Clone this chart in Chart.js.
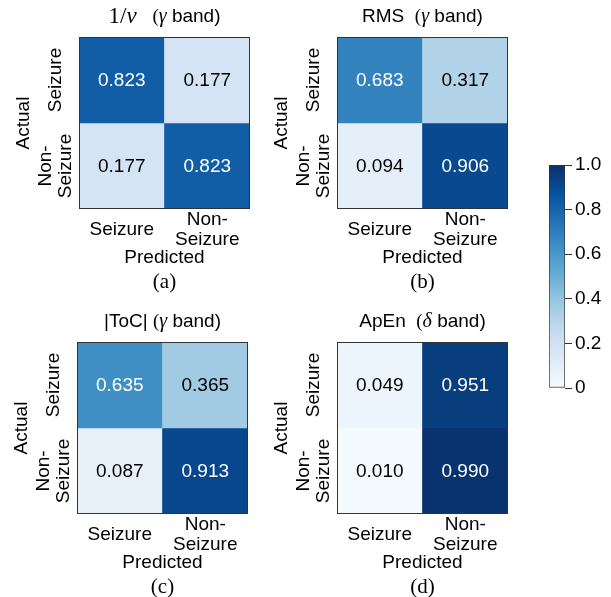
<!DOCTYPE html>
<html><head><meta charset="utf-8">
<script src="https://cdn.jsdelivr.net/npm/chart.js@4"></script>
<style>
html,body{margin:0;padding:0;background:#fff;width:611px;height:597px;overflow:hidden;position:relative}
canvas{position:absolute}
</style></head><body>
<canvas id="pa" width="290" height="297" style="left:0px;top:0px"></canvas>
<canvas id="pb" width="290" height="297" style="left:258px;top:0px"></canvas>
<canvas id="pc" width="290" height="297" style="left:-2px;top:305px"></canvas>
<canvas id="pd" width="290" height="297" style="left:258px;top:305px"></canvas>
<canvas id="cb" width="81" height="270" style="left:530px;top:140px;z-index:5"></canvas>
<script>
// ---- data ----
const predictedLabels = ['Seizure', ['Non-', 'Seizure']];
const actualLabels = ['Seizure', ['Non-', 'Seizure']];
const invNuSeizure = [0.823, 0.177];
const invNuNonSeizure = [0.177, 0.823];
const rmsSeizure = [0.683, 0.317];
const rmsNonSeizure = [0.094, 0.906];
const tocSeizure = [0.635, 0.365];
const tocNonSeizure = [0.087, 0.913];
const apenSeizure = [0.049, 0.951];
const apenNonSeizure = [0.010, 0.990];
const colorbarTicks = [0, 0.2, 0.4, 0.6, 0.8, 1.0];
const colorbarTickLabels = ['0', '0.2', '0.4', '0.6', '0.8', '1.0'];
const captions = ['(a)', '(b)', '(c)', '(d)'];

const SANS = '"Liberation Sans", Arial, sans-serif';
const SERIF = '"Liberation Serif", "Times New Roman", serif';

// matplotlib "Blues" colormap anchors
const bluesStops = [
  [247,251,255],[222,235,247],[198,219,239],[158,202,225],[107,174,214],
  [66,146,198],[33,113,181],[8,81,156],[8,48,107]
];
function blues(v) {
  const t = Math.max(0, Math.min(1, v)) * (bluesStops.length - 1);
  const i = Math.min(Math.floor(t), bluesStops.length - 2);
  const f = t - i;
  const a = bluesStops[i], b = bluesStops[i + 1];
  const c = a.map((x, k) => Math.round(x + (b[k] - x) * f));
  return `rgb(${c[0]},${c[1]},${c[2]})`;
}

const panelPlugin = {
  id: 'panelText',
  afterDatasetsDraw(chart, args, opts) {
    const {ctx, chartArea} = chart;
    ctx.save();
    chart.data.datasets.forEach((ds, di) => {
      const meta = chart.getDatasetMeta(di);
      meta.data.forEach((bar, i) => {
        const v = ds.cellValues[i];
        ctx.fillStyle = v > 0.5 ? '#ffffff' : '#000000';
        ctx.font = '19px ' + SANS;
        ctx.textAlign = 'center';
        ctx.textBaseline = 'middle';
        ctx.fillText(v.toFixed(3), bar.x, (bar.y + bar.base) / 2 + 1);
      });
    });
    ctx.strokeStyle = '#333';
    ctx.lineWidth = 1;
    ctx.strokeRect(Math.round(chartArea.left) + 0.5, Math.round(chartArea.top) + 0.5,
      Math.round(chartArea.right - chartArea.left) - 1, Math.round(chartArea.bottom - chartArea.top) - 1);
    // title with mixed fonts
    const segs = opts.title || [];
    let total = 0;
    segs.forEach(s => { ctx.font = s.f; s.w = ctx.measureText(s.t).width; total += s.w; });
    let x = (chartArea.left + chartArea.right) / 2 - total / 2;
    const y = chartArea.top - 20;
    ctx.textAlign = 'left';
    ctx.textBaseline = 'middle';
    ctx.fillStyle = '#000';
    segs.forEach(s => { ctx.font = s.f; ctx.fillText(s.t, x, y + (s.dy || 0)); x += s.w; });
    // caption
    if (opts.caption) {
      ctx.font = '21px ' + SERIF;
      ctx.textAlign = 'center';
      ctx.fillText(opts.caption, (chartArea.left + chartArea.right) / 2, chartArea.bottom + 73);
    }
    ctx.restore();
  }
};

function makePanel(id, seizureRow, nonSeizureRow, title, caption) {
  const rows = [seizureRow, nonSeizureRow];
  const font19 = {family: SANS, size: 19, lineHeight: 1.05};
  return new Chart(document.getElementById(id), {
    type: 'bar',
    data: {
      labels: predictedLabels,
      datasets: rows.map((vals, r) => ({
        label: 'Actual ' + (r === 0 ? 'Seizure' : 'Non-Seizure'),
        data: vals.map(() => 1),
        cellValues: vals,
        backgroundColor: vals.map(blues),
        borderWidth: 0,
        barPercentage: 1,
        categoryPercentage: 1
      }))
    },
    options: {
      responsive: false,
      animation: false,
      layout: {padding: {top: 37, right: 40, left: 0, bottom: 0}},
      plugins: {
        legend: {display: false},
        tooltip: {enabled: false},
        panelText: {title: title, caption: caption}
      },
      scales: {
        x: {
          stacked: true,
          grid: {display: false, drawTicks: false},
          border: {display: false},
          ticks: {font: font19, color: '#000', crossAlign: 'center', padding: 11,
                  minRotation: 0, maxRotation: 0, autoSkip: false},
          title: {display: true, text: 'Predicted', font: font19, color: '#000',
                  padding: {top: 0, bottom: 29}},
          afterFit: s => { s.height = 88; }
        },
        y: {
          stacked: true,
          reverse: true,
          min: 0, max: 2,
          afterBuildTicks: s => { s.ticks = [{value: 0.5}, {value: 1.5}]; },
          ticks: {callback: v => actualLabels[Math.floor(v)], font: font19, color: '#000',
                  minRotation: 90, maxRotation: 90, crossAlign: 'center', padding: -9, autoSkip: false},
          grid: {display: false, drawTicks: false},
          border: {display: false},
          title: {display: true, text: 'Actual', font: font19, color: '#000',
                  padding: {top: 14, bottom: 0}},
          afterFit: s => { s.width = 79; }
        }
      }
    },
    plugins: [panelPlugin]
  });
}

const sans19 = '19px ' + SANS;
const gammaTail = [
  {t: '(', f: '19px ' + SERIF},
  {t: 'γ', f: 'italic 20px ' + SERIF},
  {t: ' band)', f: sans19}
];
makePanel('pa', invNuSeizure, invNuNonSeizure,
  [{t: '1/', f: '23px ' + SERIF}, {t: 'ν', f: 'italic 23px ' + SERIF}, {t: '   ', f: sans19}].concat(gammaTail), captions[0]);
makePanel('pb', rmsSeizure, rmsNonSeizure,
  [{t: 'RMS', f: sans19}, {t: '  ', f: sans19}].concat(gammaTail), captions[1]);
makePanel('pc', tocSeizure, tocNonSeizure,
  [{t: '|ToC|', f: sans19}, {t: ' ', f: sans19}].concat(gammaTail), captions[2]);
makePanel('pd', apenSeizure, apenNonSeizure,
  [{t: 'ApEn', f: sans19}, {t: '  ', f: sans19}, {t: '(', f: '19px ' + SERIF},
   {t: 'δ', f: 'italic 20px ' + SERIF}, {t: ' band)', f: sans19}], captions[3]);

// ---- colorbar ----
new Chart(document.getElementById('cb'), {
  type: 'bar',
  data: {
    labels: [''],
    datasets: [{
      data: [1],
      backgroundColor: (c) => {
        const area = c.chart.chartArea;
        if (!area) return '#fff';
        const g = c.chart.ctx.createLinearGradient(0, area.bottom, 0, area.top);
        bluesStops.forEach((s, i) => g.addColorStop(i / (bluesStops.length - 1), `rgb(${s[0]},${s[1]},${s[2]})`));
        return g;
      },
      borderColor: '#333',
      borderWidth: 1,
      borderSkipped: false,
      barPercentage: 1,
      categoryPercentage: 1
    }]
  },
  options: {
    responsive: false,
    animation: false,
    layout: {padding: {top: 25, left: 19, right: 0, bottom: 22}},
    plugins: {legend: {display: false}, tooltip: {enabled: false}},
    scales: {
      x: {display: false},
      y: {
        position: 'right',
        min: 0, max: 1,
        afterBuildTicks: s => { s.ticks = colorbarTicks.map(v => ({value: v})); },
        ticks: {callback: (v, i) => colorbarTickLabels[i], padding: 3, color: '#000',
                font: {family: SANS, size: 19}, autoSkip: false},
        grid: {drawOnChartArea: false, drawTicks: true, tickLength: 7, color: '#333'},
        border: {display: false},
        afterFit: s => { s.width = 46; }
      }
    }
  }
});
</script>
</body></html>
